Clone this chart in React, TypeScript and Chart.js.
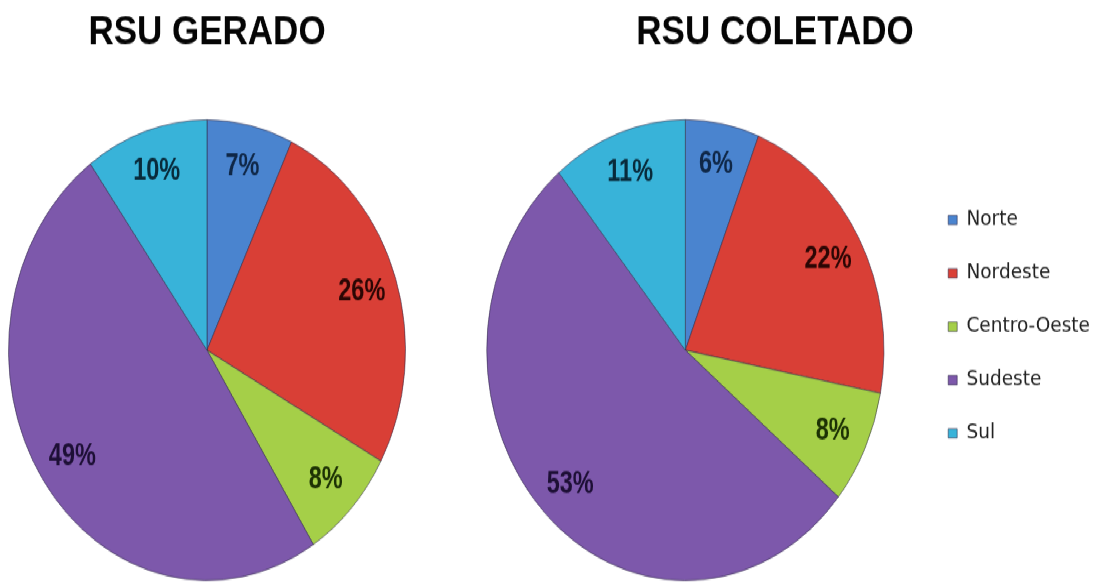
import React, { useEffect, useRef } from 'react';
import { Chart, registerables } from 'chart.js';

Chart.register(...registerables);

// ---- data ----
const regions = ['Norte', 'Nordeste', 'Centro-Oeste', 'Sudeste', 'Sul'];
const rsuGerado = [7, 26, 8, 49, 10];
const rsuColetado = [6, 22, 8, 53, 11];
const titleGerado = 'RSU GERADO';
const titleColetado = 'RSU COLETADO';

// ---- styles ----
const sliceColors = ['#4a84cf', '#d93f36', '#a5cf48', '#7d58ab', '#38b3d9'];
const labelColors = ['#0f2747', '#2b0604', '#1c3104', '#1d0f35', '#082a3a'];
const STRETCH = 1.16;
const CANVAS_H = 506;

const pctLabels = {
  id: 'pctLabels',
  afterDatasetsDraw(chart: any) {
    const ctx = chart.ctx;
    const meta = chart.getDatasetMeta(0);
    const data = chart.data.datasets[0].data;
    const squeeze = 0.87;
    ctx.save();
    ctx.font = "bold 27px 'Liberation Sans', Arial, sans-serif";
    ctx.textAlign = 'center';
    ctx.textBaseline = 'middle';
    meta.data.forEach((arc: any, i: number) => {
      const { x, y, startAngle, endAngle, outerRadius } = arc.getProps(
        ['x', 'y', 'startAngle', 'endAngle', 'outerRadius'],
        true
      );
      const mid = (startAngle + endAngle) / 2;
      const r = outerRadius * 0.82;
      const tx = x + Math.cos(mid) * r;
      const ty = y + Math.sin(mid) * r;
      ctx.save();
      ctx.translate(tx, ty);
      ctx.scale(squeeze, 1);
      ctx.fillStyle = labelColors[i];
      ctx.fillText(data[i] + '%', 0, 0);
      ctx.restore();
    });
    ctx.restore();
  },
};

function makeConfig(title: string, values: number[], showLegend: boolean, padLeft: number, padRight: number): any {
  return {
    type: 'pie',
    data: {
      labels: regions,
      datasets: [
        {
          data: values,
          backgroundColor: sliceColors,
          borderColor: 'rgba(45,40,70,0.55)',
          borderWidth: 1,
        },
      ],
    },
    options: {
      responsive: false,
      animation: false,
      layout: { padding: { left: padLeft, right: padRight, top: 0, bottom: 5 } },
      plugins: {
        tooltip: { enabled: false },
        title: {
          display: true,
          text: title,
          color: '#050505',
          font: { family: "'Liberation Sans', Arial, sans-serif", weight: 'bold', size: 35 },
          padding: { top: 7, bottom: 53.8 },
        },
        legend: {
          display: showLegend,
          position: 'right',
          align: 'start',
          title: { display: true, text: '', padding: { top: 0, bottom: 138.5 } },
          labels: {
            boxWidth: 9,
            boxHeight: 8,
            padding: 27.5,
            color: '#222222',
            font: { family: "'DejaVu Sans', sans-serif", size: 18.5 },
          },
        },
      },
    },
    plugins: [pctLabels],
  };
}

function PieCanvas(props: { title: string; values: number[]; left: number; width: number; legend: boolean; padLeft: number; padRight: number }) {
  const ref = useRef<HTMLCanvasElement | null>(null);
  useEffect(() => {
    if (!ref.current) return;
    const chart = new Chart(ref.current, makeConfig(props.title, props.values, props.legend, props.padLeft, props.padRight));
    return () => chart.destroy();
  }, []);
  return (
    <canvas
      ref={ref}
      width={props.width}
      height={CANVAS_H}
      style={{ position: 'absolute', left: props.left, top: 0, width: props.width, height: CANVAS_H, display: 'block' }}
    />
  );
}

export default function App() {
  return (
    <div
      style={{
        position: 'fixed',
        left: 0,
        top: 0,
        width: 1102,
        height: CANVAS_H,
        background: '#ffffff',
        transform: `scaleY(${STRETCH})`,
        transformOrigin: '0 0',
      }}
    >
      <PieCanvas title={titleGerado} values={rsuGerado} left={0} width={414} legend={false} padLeft={8} padRight={8} />
      <PieCanvas title={titleColetado} values={rsuColetado} left={446} width={654} legend={true} padLeft={4} padRight={0} />
    </div>
  );
}
